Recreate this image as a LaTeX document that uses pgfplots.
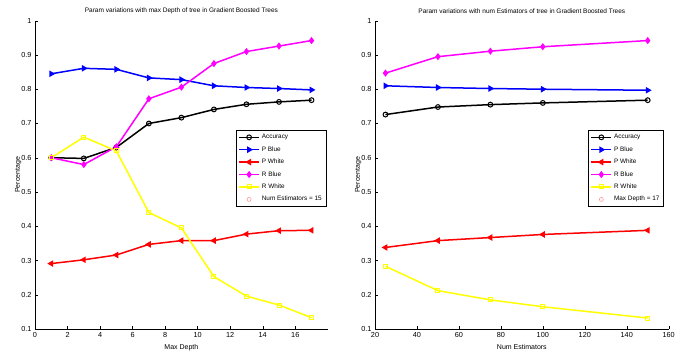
\documentclass[border=0pt]{standalone}
\usepackage{fontspec}
\setmainfont{Liberation Sans}
\usepackage{pgfplots}
\pgfplotsset{compat=1.18}
\definecolor{mblue}{rgb}{0,0,1}
\definecolor{mred}{rgb}{1,0,0}
\definecolor{mmag}{rgb}{1,0,1}
\definecolor{myel}{rgb}{1,1,0}
\definecolor{mpink}{rgb}{1,0.55,0.55}
\pgfplotsset{mystyle/.style={
  scale only axis, anchor=south west,
  axis lines*=left,
  axis line style={line width=0.5pt},
  ymin=0.1, ymax=1,
  ytick={0.1,0.2,0.3,0.4,0.5,0.6,0.7,0.8,0.9,1},
  tick align=inside,
  major tick length=3pt,
  tick style={black, line width=0.4pt},
  tick label style={font=\fontsize{7.3}{8}\selectfont},
  /pgf/number format/assume math mode=true,
  label style={font=\fontsize{7}{8}\selectfont},
  ylabel={Percentage},
  ylabel style={at={(axis description cs:-0.057,0.5)}, anchor=center},
  title style={font=\fontsize{6.5}{8}\selectfont, at={(axis description cs:0.5,1)}, anchor=center, yshift=4pt},
  legend style={font=\fontsize{6.4}{8}\selectfont, draw=black, line width=0.5pt,
    legend cell align=left, row sep=2.3pt, inner sep=2pt},
  legend image code/.code={\draw[mark repeat=2,mark phase=2] plot coordinates {(0pt,0pt) (10pt,0pt) (20pt,0pt)};},
  every axis plot/.append style={line width=1.5pt, mark size=2.4pt},
}}
\begin{document}
\begin{tikzpicture}
\path[use as bounding box] (0pt,0pt) rectangle (686pt,353pt);
\begin{axis}[mystyle, at={(35pt,24pt)}, width=292.8pt, height=308.3pt,
  xmin=0, xmax=18, xtick={0,2,4,6,8,10,12,14,16},
  xlabel={Max Depth},
  title={Param variations with max Depth of tree in Gradient Boosted Trees},
  legend style={at={(0.994,0.645)}, anchor=north east}]
\addplot[black, mark=o, mark options={fill=white, line width=1pt}] coordinates {(1,0.600) (3,0.598) (5,0.630) (7,0.700) (9,0.717) (11,0.741) (13,0.756) (15,0.763) (17,0.768)};
\addlegendentry{Accuracy}
\addplot[mblue, mark=triangle*, mark options={rotate=-90}] coordinates {(1,0.845) (3,0.861) (5,0.858) (7,0.833) (9,0.828) (11,0.810) (13,0.805) (15,0.802) (17,0.798)};
\addlegendentry{P Blue}
\addplot[mred, mark=triangle*, mark options={rotate=90}] coordinates {(1,0.291) (3,0.302) (5,0.316) (7,0.347) (9,0.358) (11,0.358) (13,0.377) (15,0.387) (17,0.388)};
\addlegendentry{P White}
\addplot[mmag, mark=diamond*] coordinates {(1,0.600) (3,0.580) (5,0.632) (7,0.772) (9,0.806) (11,0.875) (13,0.910) (15,0.926) (17,0.942)};
\addlegendentry{R Blue}
\addplot[myel, mark=square, mark options={fill=white, line width=1pt}, mark size=2pt] coordinates {(1,0.600) (3,0.660) (5,0.620) (7,0.440) (9,0.395) (11,0.253) (13,0.196) (15,0.170) (17,0.133)};
\addlegendentry{R White}
\addlegendimage{only marks, mark=o, mpink, mark size=2pt, line width=0.5pt}
\addlegendentry{Num Estimators = 15}
\end{axis}
\begin{axis}[mystyle, at={(375pt,24pt)}, width=293.7pt, height=308.3pt,
  xmin=20, xmax=160, xtick={20,40,60,80,100,120,140,160},
  xlabel={Num Estimators},
  title={Param variations with num Estimators of tree in Gradient Boosted Trees},
  legend style={at={(0.983,0.645)}, anchor=north east}]
\addplot[black, mark=o, mark options={fill=white, line width=1pt}] coordinates {(25,0.726) (50,0.748) (75,0.755) (100,0.760) (150,0.768)};
\addlegendentry{Accuracy}
\addplot[mblue, mark=triangle*, mark options={rotate=-90}] coordinates {(25,0.810) (50,0.805) (75,0.802) (100,0.800) (150,0.797)};
\addlegendentry{P Blue}
\addplot[mred, mark=triangle*, mark options={rotate=90}] coordinates {(25,0.338) (50,0.358) (75,0.367) (100,0.376) (150,0.388)};
\addlegendentry{P White}
\addplot[mmag, mark=diamond*] coordinates {(25,0.847) (50,0.895) (75,0.911) (100,0.924) (150,0.942)};
\addlegendentry{R Blue}
\addplot[myel, mark=square, mark options={fill=white, line width=1pt}, mark size=2pt] coordinates {(25,0.283) (50,0.212) (75,0.185) (100,0.165) (150,0.132)};
\addlegendentry{R White}
\addlegendimage{only marks, mark=o, mpink, mark size=2pt, line width=0.5pt}
\addlegendentry{Max Depth = 17}
\end{axis}
\end{tikzpicture}
\end{document}
